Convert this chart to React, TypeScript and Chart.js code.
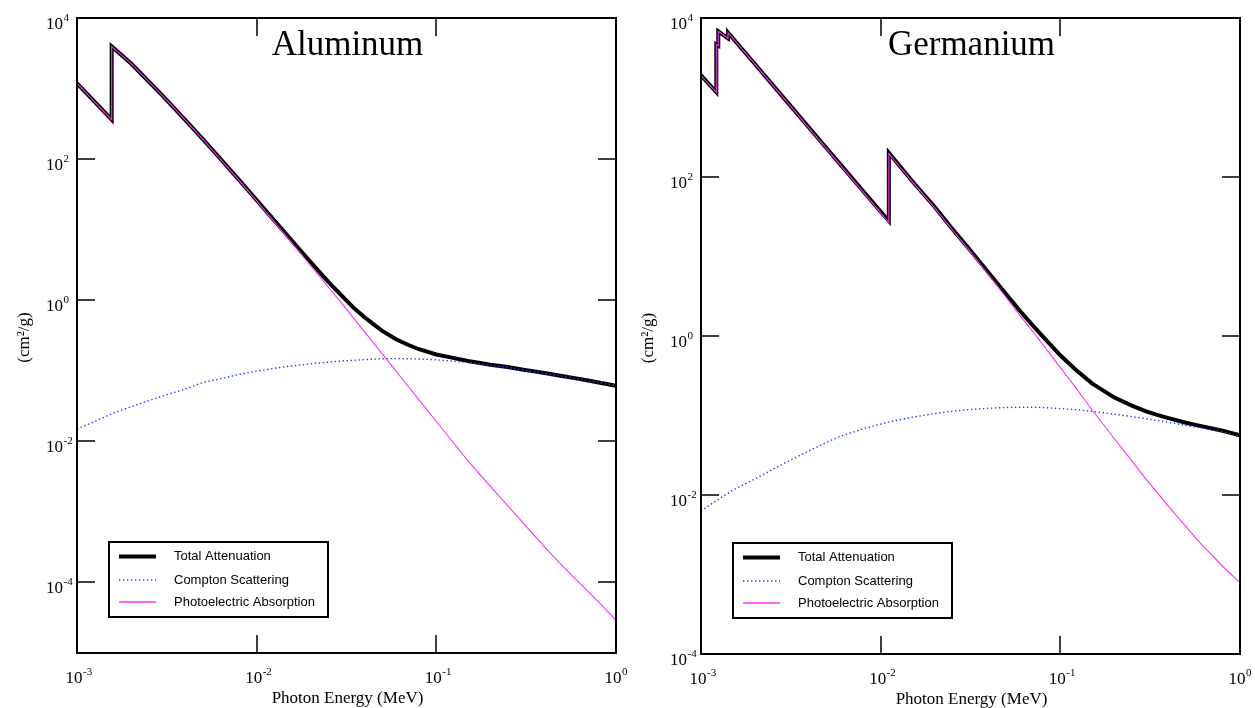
import React, { useEffect, useRef } from "react";
import { Chart, registerables } from "chart.js";

Chart.register(...registerables);

// ---------------- data (MeV, cm^2/g) ----------------
const AL_ENERGY = [0.001, 0.0015, 0.0015596, 0.0015596, 0.002, 0.003, 0.004, 0.005, 0.006, 0.008, 0.01, 0.015, 0.02, 0.025, 0.03, 0.035, 0.04, 0.045, 0.05, 0.06, 0.07, 0.08, 0.1, 0.12, 0.15, 0.2, 0.25, 0.3, 0.35, 0.4, 0.5, 0.6, 0.7, 0.8, 1.0];
const AL_TOTAL = [1185, 402, 362, 3957, 2263, 788, 360.5, 193.4, 115.3, 50.3, 26.2, 7.96, 3.44, 1.84, 1.13, 0.76, 0.569, 0.45, 0.368, 0.278, 0.232, 0.202, 0.17, 0.155, 0.138, 0.122, 0.113, 0.104, 0.098, 0.0928, 0.0845, 0.078, 0.0728, 0.0684, 0.0615];
const AL_COMPTON = [0.0148, 0.0235, 0.0245, 0.0245, 0.031, 0.044, 0.055, 0.068, 0.075, 0.089, 0.099, 0.116, 0.126, 0.132, 0.138, 0.141, 0.144, 0.146, 0.148, 0.149, 0.148, 0.147, 0.143, 0.138, 0.131, 0.121, 0.112, 0.103, 0.097, 0.092, 0.084, 0.0775, 0.0725, 0.068, 0.0612];
const AL_PHOTO = [1183, 400, 360, 3955, 2261, 786, 359, 192, 114, 49.6, 25.6, 7.49, 3.09, 1.55, 0.878, 0.539, 0.354, 0.243, 0.174, 0.0974, 0.0594, 0.0388, 0.0191, 0.0107, 0.0053, 0.0023, 0.00122, 0.00073, 0.00047, 0.00032, 0.000175, 0.00011, 0.000074, 0.000053, 0.000029];

const GE_ENERGY = [0.001, 0.0012167, 0.0012167, 0.0012478, 0.0012478, 0.0014143, 0.0014143, 0.0015, 0.002, 0.003, 0.004, 0.005, 0.006, 0.008, 0.01, 0.011103, 0.011103, 0.015, 0.02, 0.025, 0.03, 0.035, 0.04, 0.045, 0.05, 0.06, 0.07, 0.08, 0.1, 0.12, 0.15, 0.2, 0.25, 0.3, 0.35, 0.4, 0.5, 0.6, 0.7, 0.8, 1.0];
const GE_TOTAL = [1900, 1170, 4650, 4500, 6800, 5560, 6550, 5600, 2615, 893, 416, 230, 142, 66.3, 36.7, 28, 202, 88.5, 42, 22.4, 13.7, 8.95, 6.2, 4.47, 3.35, 2.03, 1.37, 0.98, 0.572, 0.388, 0.254, 0.168, 0.133, 0.113, 0.101, 0.0927, 0.0812, 0.0741, 0.0685, 0.0642, 0.0564];
const GE_COMPTON = [0.0063, 0.0085, 0.0085, 0.0088, 0.0088, 0.0105, 0.0105, 0.0115, 0.016, 0.026, 0.036, 0.046, 0.055, 0.068, 0.078, 0.083, 0.083, 0.095, 0.106, 0.113, 0.118, 0.121, 0.123, 0.125, 0.126, 0.127, 0.127, 0.126, 0.122, 0.119, 0.113, 0.104, 0.097, 0.091, 0.086, 0.082, 0.075, 0.07, 0.066, 0.062, 0.055];
const GE_PHOTO = [1890, 1163, 4640, 4490, 6790, 5550, 6540, 5590, 2605, 885, 410, 226, 139, 64.5, 35.3, 26.7, 198, 87, 41, 21.7, 13.2, 8.5, 5.8, 4.14, 3.05, 1.78, 1.15, 0.78, 0.4, 0.234, 0.118, 0.051, 0.0268, 0.0158, 0.0104, 0.0072, 0.004, 0.0025, 0.00174, 0.00127, 0.00079];

const X_TICKS = [0.001, 0.01, 0.1, 1];
const AL_Y_TICKS = [1e4, 1e2, 1, 1e-2, 1e-4];
const GE_Y_TICKS = [1e4, 1e2, 1, 1e-2, 1e-4];
const SERIES_LABELS = ["Total Attenuation", "Compton Scattering", "Photoelectric Absorption"];
const X_TITLE = "Photon Energy (MeV)";
const Y_TITLE = "(cm\u00B2/g)";

// ---------------- styles ----------------
const TOTAL_STYLE = { color: "#000000", width: 4, dash: [] as number[] };
const COMPTON_STYLE = { color: "#1f3cff", width: 1.4, dash: [1.4, 2.6] };
const PHOTO_STYLE = { color: "#ff30ff", width: 1.1, dash: [] as number[] };
const STYLES = [TOTAL_STYLE, COMPTON_STYLE, PHOTO_STYLE];

const SERIF = '"Liberation Serif", "Times New Roman", serif';
const SANS = '"Liberation Sans", Arial, sans-serif';

type Cfg = {
  title: string;
  energy: number[];
  total: number[];
  compton: number[];
  photo: number[];
  yMin: number;
  yMax: number;
  yTicks: number[];
  canvasLeft: number;
  canvasWidth: number;
  padding: { left: number; right: number; top: number; bottom: number };
};

function drawPow(ctx: CanvasRenderingContext2D, exp: number, x10: number, baseline: number, anchor: "right10" | "center10") {
  ctx.font = `17px ${SERIF}`;
  const w10 = ctx.measureText("10").width;
  const startX = anchor === "right10" ? x10 - w10 : x10 - w10 / 2;
  ctx.textAlign = "left";
  ctx.textBaseline = "alphabetic";
  ctx.fillText("10", startX, baseline);
  ctx.font = `11px ${SERIF}`;
  ctx.fillText(String(exp), startX + w10 + 0.5, baseline - 8);
}

function makeDecor(cfg: Cfg) {
  return {
    id: "decor",
    afterDatasetsDraw(chart: any) {
      const { ctx, chartArea: a, scales } = chart;
      const x = scales.x;
      const y = scales.y;
      ctx.save();
      ctx.strokeStyle = "#000";
      ctx.fillStyle = "#000";
      // inward ticks on all four sides
      ctx.lineWidth = 1.5;
      const TL = 18;
      for (const t of X_TICKS) {
        const px = Math.round(x.getPixelForValue(t));
        if (px <= a.left + 2 || px >= a.right - 2) continue;
        ctx.beginPath();
        ctx.moveTo(px, a.bottom);
        ctx.lineTo(px, a.bottom - TL);
        ctx.moveTo(px, a.top);
        ctx.lineTo(px, a.top + TL);
        ctx.stroke();
      }
      for (const t of cfg.yTicks) {
        const py = Math.round(y.getPixelForValue(t));
        if (py <= a.top + 2 || py >= a.bottom - 2) continue;
        ctx.beginPath();
        ctx.moveTo(a.left, py);
        ctx.lineTo(a.left + TL, py);
        ctx.moveTo(a.right, py);
        ctx.lineTo(a.right - TL, py);
        ctx.stroke();
      }
      // frame
      ctx.lineWidth = 2;
      ctx.strokeRect(a.left, a.top, a.right - a.left, a.bottom - a.top);

      // tick labels
      for (const t of X_TICKS) {
        const px = x.getPixelForValue(t);
        drawPow(ctx, Math.round(Math.log10(t)), px - 3, a.bottom + 30, "center10");
      }
      for (const t of cfg.yTicks) {
        const py = y.getPixelForValue(t);
        drawPow(ctx, Math.round(Math.log10(t)), a.left - 14, py + 11, "right10");
      }

      // axis titles
      ctx.font = `17px ${SERIF}`;
      ctx.textAlign = "center";
      ctx.textBaseline = "alphabetic";
      ctx.fillText(X_TITLE, (a.left + a.right) / 2 + 1, a.bottom + 50);
      ctx.save();
      ctx.translate(a.left - 52, (a.top + a.bottom) / 2 + 2);
      ctx.rotate(-Math.PI / 2);
      ctx.textBaseline = "middle";
      ctx.fillText(Y_TITLE, 0, 0);
      ctx.restore();

      // chart title
      ctx.font = `35px ${SERIF}`;
      ctx.textAlign = "center";
      ctx.textBaseline = "alphabetic";
      ctx.fillText(cfg.title, (a.left + a.right) / 2 + 1, a.top + 37);

      // legend
      const bx = a.left + 32;
      const by = a.bottom - 111;
      const bw = 219;
      const bh = 75;
      ctx.fillStyle = "#fff";
      ctx.fillRect(bx, by, bw, bh);
      ctx.strokeStyle = "#000";
      ctx.lineWidth = 2;
      ctx.strokeRect(bx, by, bw, bh);
      const rows = [14.5, 38, 60];
      SERIES_LABELS.forEach((label, i) => {
        const st = STYLES[i];
        const ry = by + rows[i];
        ctx.save();
        ctx.strokeStyle = st.color;
        ctx.lineWidth = i === 2 ? 1.6 : st.width;
        ctx.setLineDash(st.dash);
        ctx.beginPath();
        ctx.moveTo(bx + 10, ry);
        ctx.lineTo(bx + 47, ry);
        ctx.stroke();
        ctx.restore();
        ctx.fillStyle = "#000";
        ctx.font = `13px ${SANS}`;
        ctx.textAlign = "left";
        ctx.textBaseline = "middle";
        ctx.fillText(label, bx + 65, ry);
      });
      ctx.restore();
    },
  };
}

function points(xs: number[], ys: number[]) {
  return xs.map((e, i) => ({ x: e, y: ys[i] }));
}

function AttenuationChart({ cfg }: { cfg: Cfg }) {
  const ref = useRef<HTMLCanvasElement>(null);
  useEffect(() => {
    if (!ref.current) return;
    const chart = new Chart(ref.current, {
      type: "line",
      data: {
        datasets: [
          {
            label: SERIES_LABELS[0],
            data: points(cfg.energy, cfg.total),
            borderColor: TOTAL_STYLE.color,
            borderWidth: TOTAL_STYLE.width,
            pointRadius: 0,
            tension: 0,
            order: 3,
            borderJoinStyle: "miter",
          },
          {
            label: SERIES_LABELS[1],
            data: points(cfg.energy, cfg.compton),
            borderColor: COMPTON_STYLE.color,
            borderWidth: COMPTON_STYLE.width,
            borderDash: COMPTON_STYLE.dash,
            pointRadius: 0,
            tension: 0,
            order: 2,
          },
          {
            label: SERIES_LABELS[2],
            data: points(cfg.energy, cfg.photo),
            borderColor: PHOTO_STYLE.color,
            borderWidth: PHOTO_STYLE.width,
            pointRadius: 0,
            tension: 0,
            order: 1,
            borderJoinStyle: "miter",
          },
        ],
      },
      options: {
        responsive: false,
        animation: false,
        maintainAspectRatio: false,
        layout: { padding: cfg.padding },
        plugins: { legend: { display: false }, tooltip: { enabled: false }, title: { display: false } },
        scales: {
          x: { type: "logarithmic", min: 0.001, max: 1, display: false },
          y: { type: "logarithmic", min: cfg.yMin, max: cfg.yMax, display: false },
        },
      },
      plugins: [makeDecor(cfg)],
    } as any);
    return () => chart.destroy();
  }, []);
  return (
    <canvas
      ref={ref}
      width={cfg.canvasWidth}
      height={708}
      style={{ position: "absolute", left: cfg.canvasLeft, top: 0, width: cfg.canvasWidth, height: 708, display: "block" }}
    />
  );
}

const AL_CFG: Cfg = {
  title: "Aluminum",
  energy: AL_ENERGY,
  total: AL_TOTAL,
  compton: AL_COMPTON,
  photo: AL_PHOTO,
  yMin: 1e-5,
  yMax: 1e4,
  yTicks: AL_Y_TICKS,
  canvasLeft: 0,
  canvasWidth: 628,
  padding: { left: 77, right: 12, top: 18, bottom: 55 },
};

const GE_CFG: Cfg = {
  title: "Germanium",
  energy: GE_ENERGY,
  total: GE_TOTAL,
  compton: GE_COMPTON,
  photo: GE_PHOTO,
  yMin: 1e-4,
  yMax: 1e4,
  yTicks: GE_Y_TICKS,
  canvasLeft: 628,
  canvasWidth: 627,
  padding: { left: 73, right: 15, top: 18, bottom: 54 },
};

export default function App() {
  return (
    <div style={{ position: "absolute", left: 0, top: 0, width: 1255, height: 708, background: "#fff", overflow: "hidden" }}>
      <AttenuationChart cfg={AL_CFG} />
      <AttenuationChart cfg={GE_CFG} />
    </div>
  );
}
